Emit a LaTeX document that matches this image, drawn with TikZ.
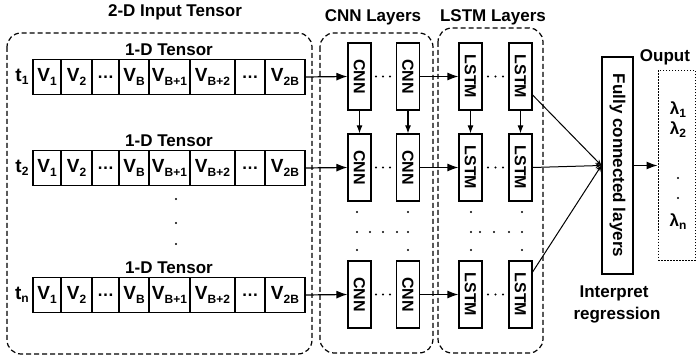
\documentclass[tikz,border=0pt]{standalone}
\usepackage{fontspec}
\setmainfont{Liberation Sans}
\usetikzlibrary{arrows.meta,calc}
\newcommand{\lsub}[1]{\raisebox{-0.35ex}{\fontsize{12}{12}\selectfont #1}}
\newcommand{\Vc}[1]{{\fontsize{19}{19}\selectfont V}\lsub{#1}}
\newcommand{\Tc}[1]{{\fontsize{19}{19}\selectfont t}\lsub{#1}}
\newcommand{\tensorrow}[2]{%
  \node[cell, minimum width=28pt] (#1a) at (47,#2) {\Vc{1}};
  \node[cell, minimum width=31pt] (#1b) at (76.5,#2) {\Vc{2}};
  \node[cell, minimum width=27pt] (#1c) at (105.5,#2) {\ldots};
  \node[cell, minimum width=30pt] (#1d) at (134,#2) {\Vc{B}};
  \node[cell, minimum width=41pt] (#1e) at (169.5,#2) {\Vc{B+1}};
  \node[cell, minimum width=45pt] (#1f) at (212.5,#2) {\Vc{B+2}};
  \node[cell, minimum width=30pt] (#1g) at (250,#2) {\ldots};
  \node[cell, minimum width=40pt] (#1h) at (285,#2) {\Vc{2B}};
  \node[lbl] (#1lab) at (169,#2-27) {1-D Tensor};
}
\tikzset{
  cell/.style={draw, line width=1.2pt, minimum height=35pt, inner sep=0pt},
  blk/.style={draw, line width=1.2pt, minimum width=23pt, minimum height=67pt, inner sep=0pt, font=\bfseries\fontsize{16}{16}\selectfont},
  lbl/.style={inner sep=0pt},
  frame/.style={dashed, dash pattern=on 5pt off 3pt, line width=1.2pt, rounded corners=14pt},
  conn/.style={line width=1.2pt},
  bigarr/.style={conn, -{Latex[length=11pt,width=8pt]}},
  smallarr/.style={conn, -{Latex[length=8pt,width=6pt]}},
  tinyarr/.style={line width=1pt, -{Stealth[length=6pt,width=5pt]}},
  dotc/.style={fill, circle, inner sep=0pt, minimum size=2.4pt},
}
\begin{document}
\begin{tikzpicture}[x=1pt,y=-1pt, font=\bfseries\fontsize{17}{17}\selectfont]
\useasboundingbox (0,0) rectangle (697,358);
% frames
\draw[frame] (7,33) rectangle (312,354);
\draw[frame] (320,33) rectangle (433,353);
\draw[frame] (438,28) rectangle (543,353);
\node[lbl] (title) at (175,12) {2-D Input Tensor};
\node[lbl] (cnnt) at (373,17) {CNN Layers};
\node[lbl] (lstmt) at (493,17) {LSTM Layers};
% tensor rows
\tensorrow{ra}{77}
\tensorrow{rb}{168}
\tensorrow{rn}{295}
\node[lbl] (ta) at (22,77) {\Tc{1}};
\node[lbl] (tb) at (22,168) {\Tc{2}};
\node[lbl] (tn) at (22,295) {\Tc{n}};
\foreach \yy/\nm in {199/d1,223/d2,244/d3}{\node[dotc] (tv\nm) at (176,\yy) {};}
% blocks
\foreach \r/\yy in {a/76.5,b/167.5,n/294.5}{
  \node[blk] (c1\r) at (359.5,\yy) {\rotatebox{-90}{CNN}};
  \node[blk] (c2\r) at (408,\yy) {\rotatebox{-90}{CNN}};
  \node[blk] (l1\r) at (470.5,\yy) {\rotatebox{-90}{LSTM}};
  \node[blk] (l2\r) at (520.5,\yy) {\rotatebox{-90}{LSTM}};
  \draw[bigarr] (r\r h.east) -- (c1\r.west);
  \draw[bigarr] (c2\r.east) -- (l1\r.west);
  \foreach \xx [count=\i] in {376,383,390}{\node[dotc] (hc\r\i) at (\xx,\yy) {};}
  \foreach \xx [count=\i] in {488,495.5,503}{\node[dotc] (hl\r\i) at (\xx,\yy) {};}
}
\foreach \c in {c1,c2,l1,l2}{\draw[smallarr] (\c a.south) -- (\c b.north);}
% vertical dot grids
\foreach \xx [count=\i] in {357,408,471,522}{
  \foreach \yy [count=\j] in {212,232,250}{\node[dotc] (vg\i\j) at (\xx,\yy) {};}
}
\foreach \xx [count=\i] in {370,383,397,480,494,509}{\node[dotc] (mg\i) at (\xx,232) {};}
% fully connected
\node[draw, line width=1.2pt, minimum width=31pt, minimum height=217pt, inner sep=0pt] (fc) at (617.5,165.5) {\rotatebox{-90}{Fully connected layers}};
\draw[tinyarr] ($(l2a.east)+(0,18.5)$) -- (fc.west);
\draw[tinyarr] (l2b.east) -- (fc.west);
\draw[tinyarr] ($(l2n.east)+(0,-22.5)$) -- (fc.west);
\node[lbl] (interp) at (614,293) {Interpret};
\node[lbl] (regr) at (617,315) {regression};
% output
\node[draw, line width=1pt, dash pattern=on 1.5pt off 1.5pt, minimum width=37pt, minimum height=190pt, inner sep=0pt] (out) at (676.5,165.5) {};
\draw[bigarr] (fc.east) -- (out.west);
\node[lbl] (outt) at (665,57) {Ouput};
\node[lbl] (lam1) at (678,110) {λ\lsub{1}};
\node[lbl] (lam2) at (678,130) {λ\lsub{2}};
\node[dotc] (od1) at (678,178) {};
\node[dotc] (od2) at (678,198) {};
\node[lbl] (lamn) at (678,222) {λ\lsub{n}};
\end{tikzpicture}
\end{document}
